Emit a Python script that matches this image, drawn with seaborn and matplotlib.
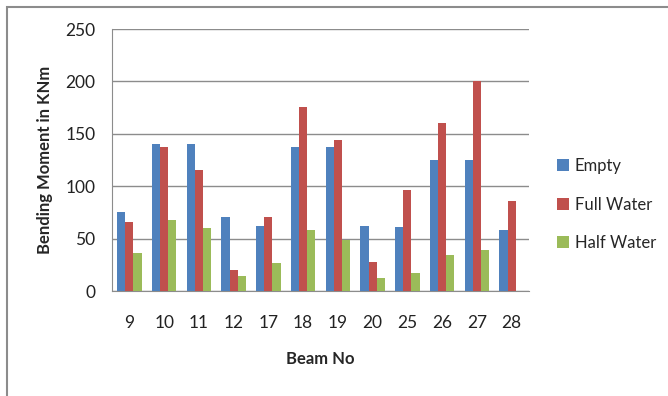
import numpy as np
import pandas as pd
import matplotlib
matplotlib.use("Agg")
import matplotlib.pyplot as plt
import seaborn as sns
from matplotlib.patches import Rectangle

beams = ["9", "10", "11", "12", "17", "18", "19", "20", "25", "26", "27", "28"]
empty = [75, 140, 140, 71, 62, 137, 137, 62, 61, 125, 125, 58]
full_water = [66, 137, 115, 20, 71, 176, 144, 28, 96, 160, 200, 86]
half_water = [36, 68, 60, 14, 27, 58, 49, 12, 17, 34, 39, 0]
series = ["Empty", "Full Water", "Half Water"]
colors = ["#4F81BD", "#C0504D", "#9BBB59"]

df = pd.DataFrame({"beam": beams, "Empty": empty, "Full Water": full_water,
                   "Half Water": half_water})
long = df.melt(id_vars="beam", var_name="series", value_name="moment")

sns.set_style("white")
plt.rcParams['font.family'] = ['Lato', 'DejaVu Sans']

fig = plt.figure(figsize=(6.68, 3.96), dpi=100)
ax = fig.add_axes([112 / 668, 1 - 291 / 396, 417 / 668, 262 / 396])

sns.barplot(data=long, x="beam", y="moment", hue="series", order=beams,
            hue_order=series, palette=colors, width=0.7, saturation=1,
            edgecolor="none", ax=ax, zorder=3)

ax.set_ylim(0, 250)
ax.set_yticks([0, 50, 100, 150, 200, 250])
ax.yaxis.grid(True, color="#8c8c8c", linewidth=1, zorder=0)
ax.set_axisbelow(True)
for s in ["top", "right"]:
    ax.spines[s].set_visible(False)
ax.spines["left"].set_color("#8c8c8c")
ax.spines["bottom"].set_color("#8c8c8c")
ax.tick_params(axis="y", length=5, color="#8c8c8c", labelsize=12.5, pad=7,
               labelcolor="#222222")
ax.tick_params(axis="x", length=0, labelsize=12.5, pad=17, labelcolor="#222222")
ax.set_xlabel("Beam No", fontsize=12, fontweight="bold", labelpad=15)
ax.set_ylabel("Bending Moment in KNm", fontsize=12, fontweight="bold", labelpad=9)

leg = ax.legend(loc="center left", bbox_to_anchor=(1.03, 0.33), frameon=False,
                fontsize=12, handlelength=0.75, handleheight=0.75,
                handletextpad=0.35, labelspacing=1.35)

# outer chart border
fig.patches.append(Rectangle((7 / 668, -0.05), 1.1, 1 - 7 / 396 + 0.05,
                             transform=fig.transFigure, fill=False,
                             edgecolor="#8c8c8c", linewidth=1.5))

fig.savefig("out.png", dpi=100)
